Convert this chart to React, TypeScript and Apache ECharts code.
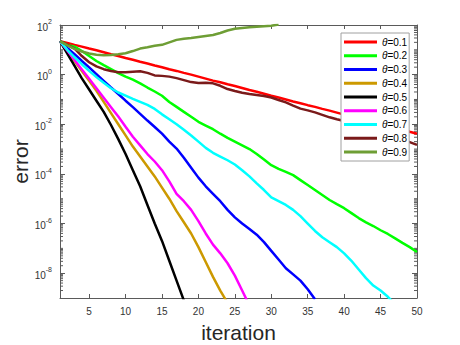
import React, { useEffect, useRef } from "react";
import * as echarts from "echarts";

// log10(error), one value per iteration starting at 1
const logErr01 = [1.35, 1.28, 1.2, 1.13, 1.05, 0.98, 0.9, 0.82, 0.75, 0.67, 0.6, 0.52, 0.45, 0.37, 0.3, 0.22, 0.15, 0.07, 0.0, -0.08, -0.16, -0.24, -0.31, -0.39, -0.46, -0.54, -0.62, -0.69, -0.77, -0.85, -0.92, -1.0, -1.08, -1.15, -1.23, -1.3, -1.38, -1.45, -1.53, -1.61, -1.68, -1.76, -1.84, -1.91, -1.99, -2.07, -2.14, -2.22, -2.3, -2.38];
const logErr02 = [1.35, 1.2, 1.13, 0.95, 0.75, 0.55, 0.38, 0.22, 0.06, -0.08, -0.2, -0.35, -0.52, -0.68, -0.85, -1.1, -1.3, -1.5, -1.7, -1.9, -2.05, -2.2, -2.38, -2.55, -2.7, -2.85, -3.0, -3.2, -3.42, -3.65, -3.8, -3.92, -4.05, -4.25, -4.45, -4.65, -4.85, -5.05, -5.22, -5.38, -5.58, -5.78, -5.95, -6.1, -6.27, -6.42, -6.6, -6.78, -6.95, -7.15];
const logErr03 = [1.35, 1.08, 0.82, 0.55, 0.29, 0.02, -0.25, -0.52, -0.78, -1.05, -1.31, -1.58, -1.85, -2.11, -2.38, -2.7, -2.98, -3.35, -3.75, -4.15, -4.5, -4.8, -5.1, -5.45, -5.75, -6.0, -6.22, -6.45, -6.75, -7.1, -7.45, -7.8, -8.05, -8.3, -8.65, -9.05];
const logErr04 = [1.35, 0.95, 0.55, 0.15, -0.25, -0.65, -1.1, -1.55, -2.0, -2.45, -2.9, -3.3, -3.7, -4.1, -4.55, -5.0, -5.5, -5.95, -6.4, -6.95, -7.55, -8.15, -8.7, -9.2];
const logErr05 = [1.35, 0.85, 0.35, -0.15, -0.6, -1.05, -1.5, -2.03, -2.6, -3.2, -3.85, -4.5, -5.25, -6.0, -6.7, -7.5, -8.3, -9.1];
const logErr06 = [1.35, 0.97, 0.59, 0.21, -0.17, -0.55, -0.93, -1.31, -1.69, -2.1, -2.5, -2.85, -3.2, -3.5, -3.85, -4.3, -4.8, -5.1, -5.45, -5.9, -6.4, -6.85, -7.2, -7.6, -8.1, -8.7, -9.3];
const logErr07 = [1.35, 1.0, 0.7, 0.42, 0.15, -0.1, -0.33, -0.55, -0.72, -0.85, -0.98, -1.1, -1.22, -1.38, -1.6, -1.8, -2.0, -2.22, -2.45, -2.7, -2.95, -3.15, -3.3, -3.45, -3.62, -3.85, -4.1, -4.38, -4.65, -4.95, -5.1, -5.25, -5.45, -5.7, -6.0, -6.3, -6.55, -6.75, -6.95, -7.2, -7.5, -7.85, -8.2, -8.5, -8.7, -8.95, -9.25];
const logErr08 = [1.35, 1.2, 1.05, 0.75, 0.5, 0.33, 0.22, 0.15, 0.1, 0.1, 0.12, 0.14, 0.07, -0.03, -0.05, -0.08, -0.14, -0.22, -0.3, -0.34, -0.33, -0.35, -0.45, -0.58, -0.66, -0.73, -0.78, -0.82, -0.86, -0.92, -1.02, -1.12, -1.25, -1.37, -1.44, -1.52, -1.62, -1.72, -1.8, -1.87, -1.95, -2.04, -2.13, -2.22, -2.32, -2.42, -2.52, -2.62, -2.72, -2.83];
const logErr09 = [1.35, 1.18, 1.04, 0.93, 0.85, 0.8, 0.78, 0.79, 0.82, 0.86, 0.95, 1.05, 1.1, 1.16, 1.2, 1.3, 1.4, 1.45, 1.48, 1.52, 1.56, 1.6, 1.68, 1.78, 1.85, 1.88, 1.91, 1.93, 1.95, 1.97, 2.02];

const seriesNames = ["θ=0.1", "θ=0.2", "θ=0.3", "θ=0.4", "θ=0.5", "θ=0.6", "θ=0.7", "θ=0.8", "θ=0.9"];
const seriesLogs = [logErr01, logErr02, logErr03, logErr04, logErr05, logErr06, logErr07, logErr08, logErr09];
const seriesColors = ["#ff0000", "#00ff00", "#0000ff", "#cc9900", "#000000", "#ff00ff", "#00ffff", "#7a1a1a", "#6e9e35"];

const xTicks = [5, 10, 15, 20, 25, 30, 35, 40, 45, 50];
const yMajorTicks = [1e-8, 1e-6, 1e-4, 1e-2, 1, 100];
const yDecades = [-9, -8, -7, -6, -5, -4, -3, -2, -1, 0, 1];
const minorMultipliers = [2, 3, 4, 5, 6, 7, 8, 9];

const FONT = "Liberation Sans, Arial, Helvetica, sans-serif";
const AXIS = "#5a5a5a";

export default function App() {
  const ref = useRef<HTMLDivElement>(null);
  useEffect(() => {
    document.body.style.margin = "0";
    if (!ref.current) return;
    const chart = echarts.init(ref.current, undefined, { renderer: "svg" });

    const minorVals: number[][] = [];
    yDecades.forEach((d) => {
      const base = Math.pow(10, d);
      if (d % 2 !== 0 && d > -9) minorVals.push([1, base]);
      minorMultipliers.forEach((m) => minorVals.push([1, m * base]));
    });

    const lineSeries = seriesNames.map((name, k) => ({
      name,
      type: "line",
      data: seriesLogs[k].map((e, i) => [i + 1, Math.pow(10, e)]),
      symbol: "none",
      showSymbol: false,
      clip: true,
      lineStyle: { color: seriesColors[k], width: 2.5 },
      itemStyle: { color: seriesColors[k] },
      z: 3,
    }));

    const tickStyle = { color: AXIS, width: 1 };

    chart.setOption({
      animation: false,
      textStyle: { fontFamily: FONT },
      grid: { left: 60, right: 43, top: 25, bottom: 47, containLabel: false, outerBoundsMode: "none" },
      legend: {
        show: true,
        data: seriesNames,
        orient: "vertical",
        left: 341,
        top: 33,
        width: 67,
        padding: [3, 2, 3, 3],
        icon: "rect",
        itemWidth: 33,
        itemHeight: 3,
        itemGap: 1.75,
        backgroundColor: "#ffffff",
        borderColor: "#a0a0a0",
        borderWidth: 1,
        borderRadius: 0,
        z: 10,
        textStyle: {
          fontFamily: FONT,
          fontSize: 10,
          lineHeight: 12,
          color: "#000",
          rich: {
            i: { fontStyle: "italic", fontSize: 10, lineHeight: 12, fontFamily: FONT, color: "#000" },
            n: { fontSize: 10, lineHeight: 12, fontFamily: FONT, color: "#000" },
          },
        },
        formatter: (name: string) => "{i|θ}{n|" + name.slice(1) + "}",
      },
      xAxis: [
        {
          type: "value",
          min: 1,
          max: 50,
          position: "bottom",
          axisLine: { show: true, lineStyle: tickStyle },
          axisTick: { show: true, inside: true, length: 4, customValues: xTicks, lineStyle: tickStyle },
          axisLabel: { show: true, customValues: xTicks, color: "#333", fontSize: 10, margin: 8, fontFamily: FONT },
          splitLine: { show: false },
          name: "iteration",
          nameLocation: "middle",
          nameGap: 24,
          nameTextStyle: { fontSize: 21, color: "#262626", fontFamily: FONT },
        },
        {
          type: "value",
          min: 1,
          max: 50,
          position: "top",
          axisLine: { show: true, lineStyle: tickStyle },
          axisTick: { show: true, inside: true, length: 4, customValues: xTicks, lineStyle: tickStyle },
          axisLabel: { show: false },
          splitLine: { show: false },
        },
      ],
      yAxis: [
        {
          type: "log",
          logBase: 10,
          min: 1e-9,
          max: 100,
          position: "left",
          axisLine: { show: true, lineStyle: tickStyle },
          axisTick: { show: true, inside: true, length: 5, customValues: yMajorTicks, lineStyle: tickStyle },
          axisLabel: {
            show: true,
            customValues: yMajorTicks,
            margin: 8,
            formatter: (v: number) => "{b|10}{s|" + Math.round(Math.log10(v)) + "}",
            rich: {
              b: { fontSize: 10, color: "#333", fontFamily: FONT, lineHeight: 14, verticalAlign: "bottom" },
              s: { fontSize: 7, color: "#333", fontFamily: FONT, lineHeight: 8, verticalAlign: "top" },
            },
          },
          splitLine: { show: false },
          name: "error",
          nameLocation: "middle",
          nameGap: 29,
          nameMoveOverlap: false,
          nameTextStyle: { fontSize: 21, color: "#262626", fontFamily: FONT },
        },
        {
          type: "log",
          logBase: 10,
          min: 1e-9,
          max: 100,
          position: "right",
          axisLine: { show: true, lineStyle: tickStyle },
          axisTick: { show: true, inside: true, length: 5, customValues: yMajorTicks, lineStyle: tickStyle },
          axisLabel: { show: false },
          splitLine: { show: false },
        },
      ],
      series: [
        {
          type: "custom",
          name: "minorTicks",
          silent: true,
          xAxisIndex: 0,
          yAxisIndex: 0,
          z: 1,
          data: minorVals,
          encode: { x: 0, y: 1 },
          renderItem: (params: any, api: any) => {
            const cs = params.coordSys;
            const y = api.coord([1, api.value(1)])[1];
            return {
              type: "group",
              children: [
                { type: "line", shape: { x1: cs.x, y1: y, x2: cs.x + 3, y2: y }, style: { stroke: AXIS, lineWidth: 1 } },
                { type: "line", shape: { x1: cs.x + cs.width, y1: y, x2: cs.x + cs.width - 3, y2: y }, style: { stroke: AXIS, lineWidth: 1 } },
              ],
            };
          },
        },
        ...lineSeries,
      ],
    });
    return () => chart.dispose();
  }, []);
  return <div ref={ref} style={{ width: 460, height: 345 }} />;
}
